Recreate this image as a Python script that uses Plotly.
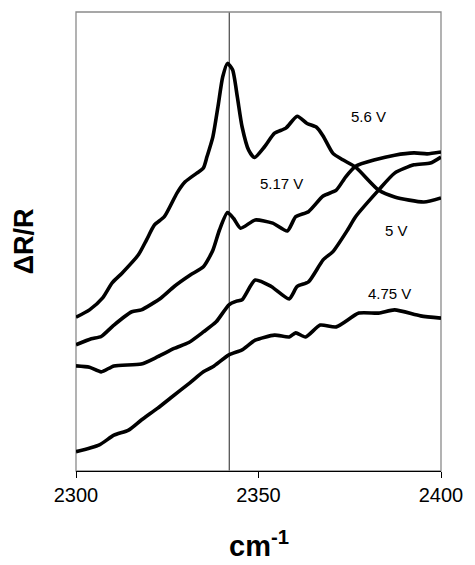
import plotly.graph_objects as go

# Wavenumber (cm^-1) and relative reflectance change for each cell voltage
x_56 = [2300, 2303.7, 2307.3, 2309.9, 2312.6, 2317.1, 2319.3, 2321.5, 2324.2, 2327.7,
        2329.9, 2333.1, 2334.9, 2335.9, 2337.5, 2338.9, 2340.2, 2341.5, 2342.9, 2344.2,
        2345.5, 2347.3, 2348.9, 2351.7, 2354.4, 2357.5, 2360.6, 2363.3, 2365.9, 2367.7,
        2370.4, 2373.1, 2376.6, 2382.9, 2387.3, 2395.3, 2400]
y_56 = [33.5, 35.1, 37.7, 41.0, 43.1, 47.1, 50.3, 53.6, 55.4, 60.6,
        63.0, 64.9, 66.0, 68.5, 72.8, 79.4, 85.9, 88.8, 87.4, 81.5,
        75.0, 69.9, 68.3, 70.7, 73.6, 74.7, 77.3, 75.7, 74.9, 73.0,
        69.2, 67.8, 66.2, 61.2, 59.7, 58.6, 59.5]

x_517 = [2300, 2304.2, 2306.9, 2310.4, 2315.3, 2317.9, 2323.3, 2326.9, 2331.3, 2334.9,
         2337.5, 2339.3, 2341.5, 2343.2, 2345.1, 2349.1, 2353.9, 2357.9, 2360.2, 2363.7,
         2367.7, 2371.3, 2373.9, 2376.6, 2381.9, 2387.3, 2392.6, 2396.2, 2400]
y_517 = [27.5, 28.8, 29.3, 31.8, 34.7, 35.1, 37.7, 40.2, 42.7, 44.5,
         48.1, 52.5, 56.3, 55.0, 52.9, 54.7, 54.0, 52.3, 55.4, 56.5,
         59.9, 61.2, 64.1, 66.4, 67.8, 68.8, 69.3, 69.1, 69.5]

x_50 = [2300, 2303.7, 2306.9, 2310.4, 2317.9, 2322.4, 2326.9, 2330.9, 2334.9, 2338.4,
        2341.9, 2344.0, 2345.5, 2349.1, 2353.5, 2358.4, 2360.6, 2363.7, 2367.7, 2370.4,
        2374.4, 2376.6, 2382.9, 2387.3, 2392.6, 2397.1, 2400]
y_50 = [22.9, 22.6, 21.6, 22.9, 23.3, 24.9, 26.7, 28.0, 30.3, 32.5,
        36.2, 37.0, 37.3, 41.6, 40.2, 37.5, 40.2, 41.2, 46.0, 47.8,
        52.5, 55.4, 61.2, 64.9, 66.7, 67.1, 68.4]

x_475 = [2300, 2306.4, 2310.4, 2314.4, 2317.9, 2322.4, 2325.9, 2331.2, 2334.9, 2337.5,
         2341.9, 2345.5, 2349.1, 2354.4, 2358.4, 2360.2, 2362.9, 2366.9, 2371.3, 2377.5,
         2382.9, 2387.3, 2394.4, 2400]
y_475 = [4.2, 5.7, 7.8, 8.9, 11.1, 13.7, 15.9, 19.2, 21.6, 22.7,
         25.3, 26.4, 28.5, 29.6, 29.2, 30.1, 29.2, 31.8, 31.4, 34.4,
         34.4, 35.1, 33.8, 33.3]

labels = ["5.6 V", "5.17 V", "5 V", "4.75 V"]
label_x = [2380, 2356.3, 2387.7, 2385.9]
label_y = [77.3, 62.7, 52.3, 38.6]

x_ticks = [2300, 2350, 2400]
marker_line = 2342

FONT = "Liberation Sans, Arial, sans-serif"

fig = go.Figure()
for xs, ys, name in [(x_56, y_56, labels[0]), (x_517, y_517, labels[1]),
                     (x_50, y_50, labels[2]), (x_475, y_475, labels[3])]:
    fig.add_trace(go.Scatter(x=xs, y=ys, mode="lines", name=name,
                             line=dict(color="black", width=3.6,
                                       shape="spline", smoothing=0.6)))

for t, ax, ay in zip(labels, label_x, label_y):
    fig.add_annotation(x=ax, y=ay, text=t, showarrow=False,
                       font=dict(family=FONT, size=15, color="black"))

# axis titles
fig.add_annotation(x=0.5, y=-0.203, xref="paper", yref="paper",
                   text="<b>cm<sup>-1</sup></b>", showarrow=False,
                   xanchor="center", yanchor="bottom",
                   font=dict(family=FONT, size=29, color="black"))
fig.add_annotation(x=-0.143, y=0.5, xref="paper", yref="paper",
                   text="<b>ΔR/R</b>", showarrow=False, textangle=-90,
                   xanchor="center", yanchor="middle",
                   font=dict(family=FONT, size=27, color="black"))

# reference wavenumber marker
fig.add_shape(type="line", x0=marker_line, x1=marker_line, y0=0, y1=1,
              xref="x", yref="paper", line=dict(color="#555555", width=1.3),
              layer="below")
# plot frame
fig.add_shape(type="rect", x0=0, x1=1, y0=0, y1=1, xref="paper", yref="paper",
              line=dict(color="#8a8a8a", width=1.3), layer="below")

fig.update_layout(
    width=475, height=565,
    margin=dict(l=76, r=24, t=12, b=94),
    plot_bgcolor="white", paper_bgcolor="white",
    showlegend=False,
    font=dict(family=FONT, color="black"),
    xaxis=dict(range=[2300, 2400], tickvals=x_ticks, showgrid=False, zeroline=False,
               showline=True, linecolor="black", linewidth=1.3,
               ticks="outside", ticklen=6, tickcolor="black", tickwidth=1.3,
               tickfont=dict(size=20, family=FONT)),
    yaxis=dict(range=[0, 100], showticklabels=False, showgrid=False, zeroline=False,
               showline=False, ticks=""),
)

fig.write_html("out.html")
